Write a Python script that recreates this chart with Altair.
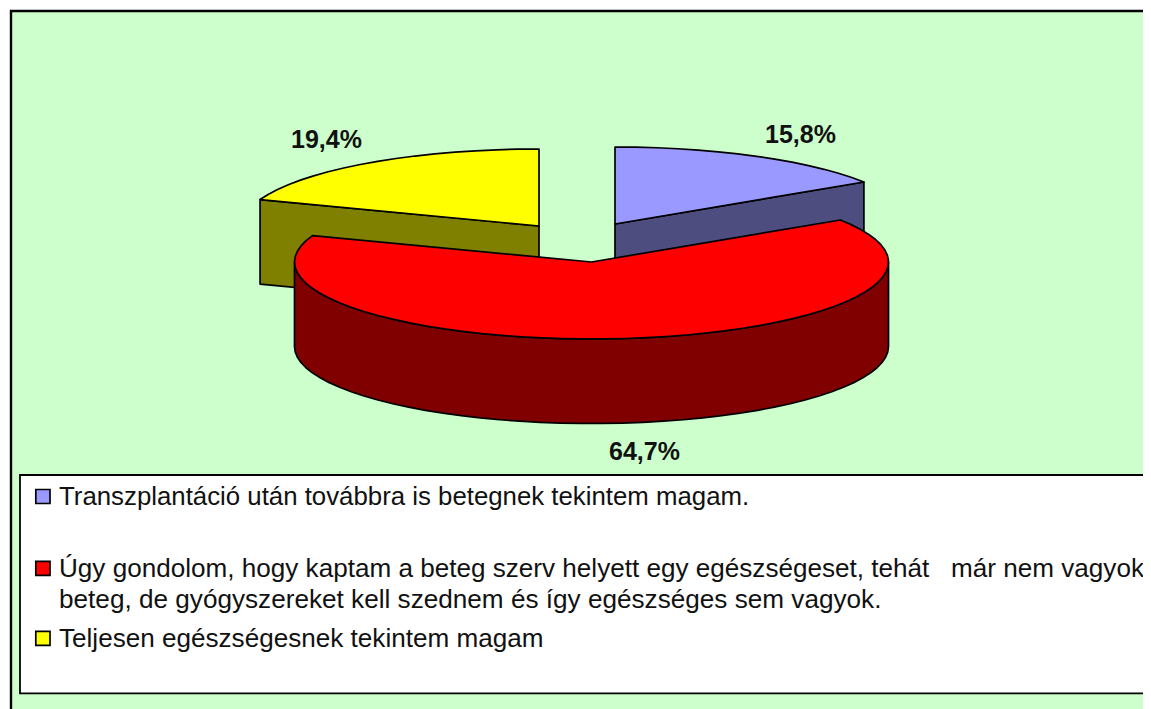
import math
import altair as alt

# --- data ---
categories = ["Transzplantáció", "Úgy gondolom", "Teljesen"]
values = [15.8, 64.7, 19.4]
top_colors = ["#9999FF", "#FF0000", "#FFFF00"]
side_colors = ["#4D4D80", "#800000", "#808000"]
legend_lines = [
    "Transzplantáció után továbbra is betegnek tekintem magam.",
    "Úgy gondolom, hogy kaptam a beteg szerv helyett egy egészségeset, tehát \u00a0 már nem vagyok",
    "beteg, de gyógyszereket kell szednem és így egészséges sem vagyok.",
    "Teljesen egészségesnek tekintem magam",
]

# --- layout (image pixels) ---
W, H = 1135, 701
OFF = 8
centres = [(615, 224), (591.5, 262), (539, 226)]
RX, RY, DEPTH = 297, 77, 84.5
STEP = 4

xs = alt.Scale(domain=[OFF, OFF + W], nice=False, zero=False)
ys = alt.Scale(domain=[OFF, OFF + H], nice=False, zero=False, reverse=True)
X = lambda f, s=xs: alt.X(f, type="quantitative", scale=s, axis=None)
Y = lambda f, s=ys: alt.Y(f, type="quantitative", scale=s, axis=None)


def pt(c, deg, dz=0):
    a = math.radians(deg)
    return [c[0] + RX * math.sin(a) - OFF, c[1] - RY * math.cos(a) + dz - OFF]


def arc(c, a0, a1, dz=0):
    n = max(2, int(abs(a1 - a0) / STEP))
    return [pt(c, a0 + (a1 - a0) * i / n, dz) for i in range(n + 1)]


def feature(ring, fill):
    return {
        "type": "Feature",
        "properties": {"fill": fill},
        "geometry": {"type": "Polygon", "coordinates": [ring + [ring[0]]]},
    }


total = sum(values)
angles = []
start = 0.0
for v in values:
    end = start + 360 * v / total
    angles.append((start, end))
    start = end

feats = []
order = [2, 0, 1]  # back slices first, the big front slice last
for i in order:
    c = centres[i]
    a0, a1 = angles[i]
    apex = [c[0] - OFF, c[1] - OFF]
    if i == 1:
        lo, hi = 90, 270
        wall = arc(c, lo, hi) + arc(c, hi, lo, DEPTH)
    else:
        edge = a1 if i == 0 else a0
        e0, e1 = pt(c, edge), pt(c, edge, DEPTH)
        wall = [apex, e0, e1, [apex[0], apex[1] + DEPTH]]
    feats.append(feature(wall, side_colors[i]))
    feats.append(feature([apex] + arc(c, a0, a1), top_colors[i]))

pie = (
    alt.Chart(alt.Data(values=feats))
    .mark_geoshape(stroke="black", strokeWidth=1.7, strokeJoin="round")
    .encode(color=alt.Color("properties.fill:N", scale=None))
    .project(type="identity", scale=1, translate=[0, 0])
)

frame = alt.Chart(alt.Data(values=[{"x": 11, "x2": 1300, "y": 11, "y2": 800}])).mark_rect(
    fill="#CCFFCC", stroke="black", strokeWidth=2.4
).encode(x=X("x"), x2="x2:Q", y=Y("y"), y2="y2:Q")

box = alt.Chart(alt.Data(values=[{"x": 20, "x2": 1300, "y": 475, "y2": 693.3}])).mark_rect(
    fill="white", stroke="black", strokeWidth=1.8
).encode(x=X("x"), x2="x2:Q", y=Y("y"), y2="y2:Q")

swatches = alt.Chart(alt.Data(values=[
    {"x": 35.8, "x2": 50, "y": 489.5, "y2": 503.5, "c": top_colors[0]},
    {"x": 35.8, "x2": 50, "y": 561.3, "y2": 575.3, "c": top_colors[1]},
    {"x": 35.8, "x2": 50, "y": 631.3, "y2": 645.3, "c": top_colors[2]},
])).mark_rect(stroke="black", strokeWidth=1.7).encode(
    x=X("x"), x2="x2:Q", y=Y("y"), y2="y2:Q", color=alt.Color("c:N", scale=None)
)

legend_text = alt.Chart(alt.Data(values=[
    {"x": 59, "y": 505, "t": legend_lines[0], "s": 25.8},
    {"x": 59, "y": 577, "t": legend_lines[1], "s": 26.1},
    {"x": 59, "y": 608, "t": legend_lines[2], "s": 26.15},
    {"x": 59, "y": 647, "t": legend_lines[3], "s": 26.1},
])).mark_text(font="Liberation Sans", align="left", baseline="alphabetic", color="#111111").encode(
    x=X("x"), y=Y("y"), text="t:N", size=alt.Size("s:Q", scale=None, legend=None)
)

label_pos = [(800.5, 143), (644.5, 460), (326.5, 148)]
pct = alt.Chart(alt.Data(values=[
    {"x": p[0], "y": p[1], "t": f"{v:.1f}".replace(".", ",") + "%"}
    for p, v in zip(label_pos, values)
])).mark_text(font="Liberation Sans", fontSize=25, fontWeight="bold", align="center", baseline="alphabetic", color="#111111").encode(
    x=X("x"), y=Y("y"), text="t:N"
)

chart = (
    alt.layer(frame, box, pie, swatches, legend_text, pct)
    .properties(width=W, height=H, padding=0, background="white",
                autosize=alt.AutoSizeParams(type="none"))
    .configure_view(stroke=None)
)
chart.save("out.html", embed_options={"renderer": "svg", "actions": False})
